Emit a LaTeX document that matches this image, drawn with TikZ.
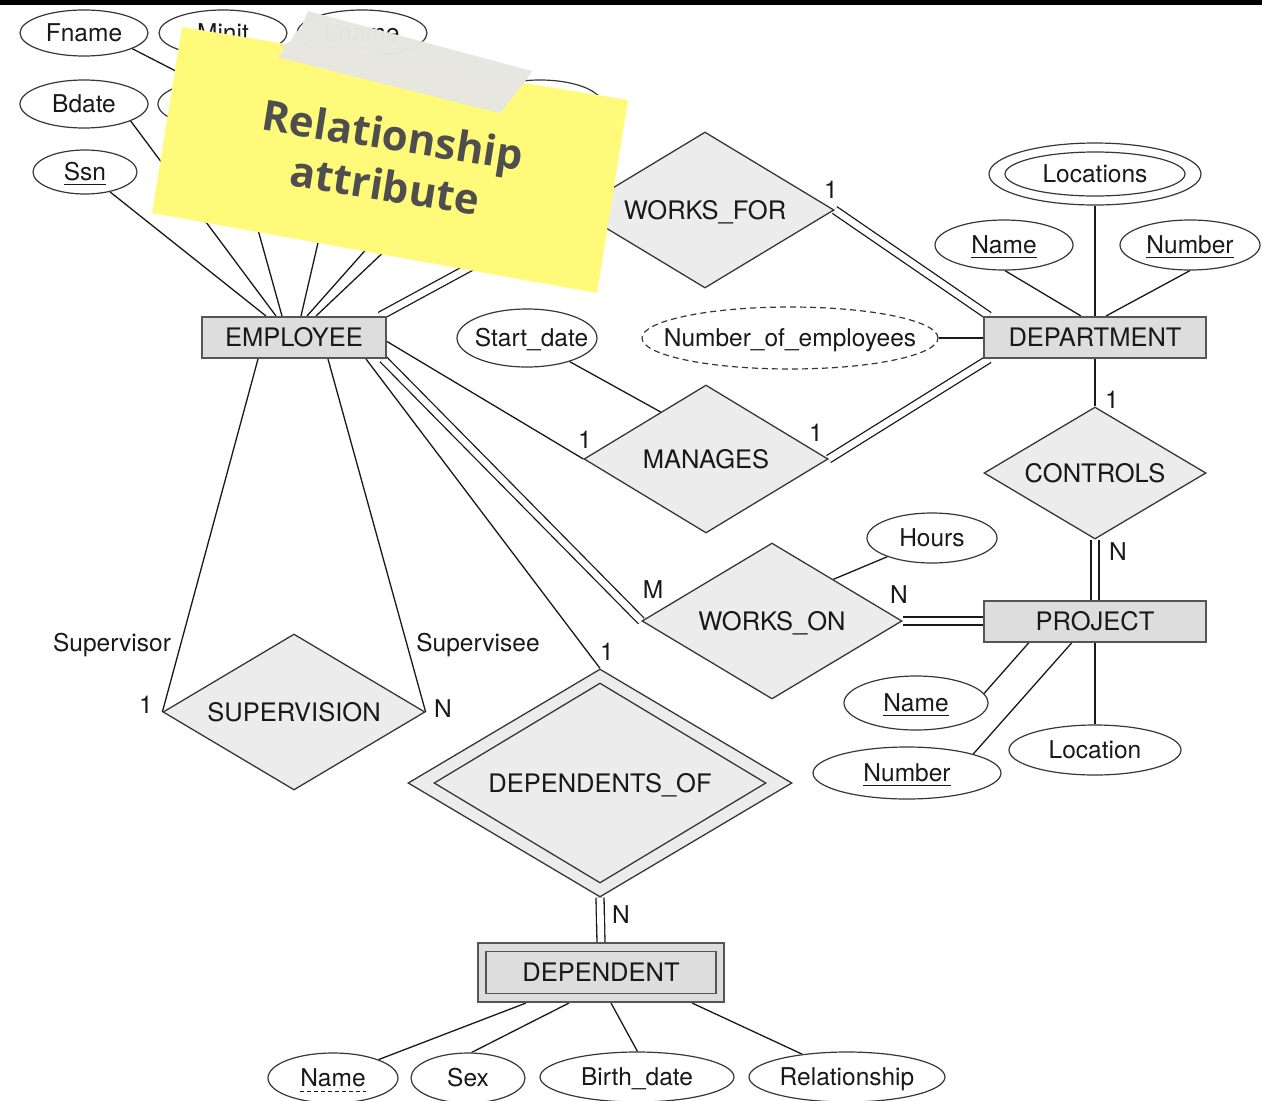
\documentclass[tikz,border=0pt]{standalone}
\usepackage{fontspec}
\setmainfont{TeX Gyre Heros}
\newfontfamily\notefont{Open Sans}
\usetikzlibrary{shapes.geometric,calc}
\pgfdeclarelayer{bg}
\pgfsetlayers{bg,main}

\definecolor{entfill}{RGB}{221,221,221}
\definecolor{relfill}{RGB}{236,236,236}
\definecolor{edgegray}{RGB}{55,55,55}
\definecolor{entedge}{RGB}{85,85,85}
\definecolor{inkblack}{RGB}{25,25,25}
\definecolor{noteyellow}{RGB}{255,250,122}
\definecolor{tapegray}{RGB}{231,231,226}
\definecolor{notegray}{RGB}{78,78,78}

% key attribute underline
\newcommand\keyul[1]{\sbox0{#1}\rlap{\rule[-4.5pt]{\wd0}{1.3pt}}\usebox0}
% text that does not widen its ellipse
\newcommand\zw[1]{\makebox[0pt]{#1}}

\tikzset{
  txt/.style={font=\fontsize{24.5pt}{29pt}\selectfont, text=inkblack, text height=17.6pt, text depth=0pt},
  attr/.style={ellipse, draw=edgegray, line width=1.2pt, fill=white, inner sep=0pt, txt},
  entity/.style={rectangle, draw=entedge, line width=2pt, fill=entfill, inner sep=0pt,
    font=\fontsize{25.5pt}{30pt}\selectfont, text=inkblack, text height=18.3pt, text depth=0pt},
  rel/.style={diamond, aspect=1.66, draw=edgegray, line width=1.3pt, fill=relfill, inner sep=0pt,
    font=\fontsize{25.5pt}{30pt}\selectfont, text=inkblack, text height=18.3pt, text depth=0pt},
  card/.style={txt, inner sep=0pt},
  link/.style={draw=inkblack, line width=1.3pt},
  dlink/.style={draw=inkblack, line width=1.3pt, double=white, double distance=6.7pt},
  notetext/.style={font=\notefont\bfseries\fontsize{42pt}{51pt}\selectfont, text=notegray,
    align=center, rotate=-9, inner sep=0pt},
}

\begin{document}
\begin{tikzpicture}[x=1pt,y=-1pt]
\useasboundingbox (0,0) rectangle (1262,1101);
\begin{pgfonlayer}{bg}
\fill[white] (0,0) rectangle (1262,1101);
\end{pgfonlayer}
\fill[black] (0,0) rectangle (1262,5);

% ---------- EMPLOYEE and its attributes ----------
\node[entity, minimum width=184pt, minimum height=41pt] (emp) at (294,337.5) {EMPLOYEE};
\node[attr, minimum width=128pt, minimum height=46pt] (fname) at (84,33) {Fname};
\node[attr, minimum width=128pt, minimum height=46pt] (minit) at (223,33) {Minit};
\node[attr, minimum width=130pt, minimum height=46pt] (lname) at (362,33) {Lname};
\node[attr, minimum width=128pt, minimum height=48pt] (bdate) at (84,104) {Bdate};
\node[attr, minimum width=130pt, minimum height=48pt] (ename) at (223,104) {};
\node[attr, minimum width=124pt, minimum height=48pt] (addr) at (540,104) {};
\node[attr, minimum width=104pt, minimum height=44pt] (ssn) at (85,172) {\keyul{Ssn}};
\node[attr, minimum width=84pt, minimum height=44pt] (sex) at (333,178) {};
\node[attr, minimum width=104pt, minimum height=44pt] (salary) at (432,175) {};

% ---------- DEPARTMENT and its attributes ----------
\node[entity, minimum width=222pt, minimum height=41pt] (dept) at (1095,337.5) {DEPARTMENT};
\node[attr, minimum width=212pt, minimum height=62pt] (locsout) at (1095,174) {};
\node[attr, minimum width=180pt, minimum height=44pt] (locs) at (1095,174) {\zw{Locations}};
\node[attr, minimum width=138pt, minimum height=50pt] (dname) at (1004,245) {\keyul{Name}};
\node[attr, minimum width=140pt, minimum height=50pt] (dnum) at (1190,245) {\keyul{Number}};
\node[attr, dash pattern=on 6pt off 4pt, minimum width=296pt, minimum height=62pt] (numemp) at (790,338) {\zw{Number\_of\_employees}};

% ---------- PROJECT and its attributes ----------
\node[entity, minimum width=222pt, minimum height=41pt] (proj) at (1095,621) {PROJECT};
\node[attr, minimum width=144pt, minimum height=54pt] (pname) at (916,703) {\keyul{Name}};
\node[attr, minimum width=188pt, minimum height=52pt] (pnum) at (907,773) {\keyul{Number}};
\node[attr, minimum width=172pt, minimum height=50pt] (ploc) at (1095,750) {\zw{Location}};

% ---------- DEPENDENT (weak entity) and its attributes ----------
\node[entity, minimum width=246pt, minimum height=59pt] (depout) at (601,972.5) {};
\node[entity, minimum width=230pt, minimum height=42pt, line width=1.8pt] (dep) at (601,972.5) {DEPENDENT};
\node[attr, minimum width=130pt, minimum height=50pt] (dpname) at (333,1078) {};
\node[card] (dpnametxt) at (333,1078) {Name};
\node[attr, minimum width=114pt, minimum height=50pt] (dsex) at (468,1078) {Sex};
\node[attr, minimum width=194pt, minimum height=50pt] (dbirth) at (637,1077) {\zw{Birth\_date}};
\node[attr, minimum width=196pt, minimum height=50pt] (drel) at (847,1077) {\zw{Relationship}};

% ---------- relationships ----------
\node[rel, minimum width=258pt, minimum height=156pt] (wf) at (705,210) {WORKS\_FOR};
\node[rel, minimum width=244pt, minimum height=148pt] (man) at (706,459) {MANAGES};
\node[attr, minimum width=140pt, minimum height=58pt] (sdate) at (527,338) {\zw{\hspace{9pt}Start\_date}};
\node[rel, minimum width=260pt, minimum height=156pt] (wo) at (772,621) {WORKS\_ON};
\node[attr, minimum width=130pt, minimum height=50pt] (hours) at (932,538) {Hours};
\node[rel, minimum width=222pt, minimum height=132pt] (ctrl) at (1095,473) {CONTROLS};
\node[rel, minimum width=262pt, minimum height=156pt] (sup) at (294,712) {SUPERVISION};
\node[rel, minimum width=384pt, minimum height=228pt] (depofout) at (600,783) {};
\node[rel, minimum width=332pt, minimum height=200pt] (depof) at (600,783) {DEPENDENTS\_OF};

% partial-key dashed underline
\draw[inkblack, line width=1.2pt, dash pattern=on 4pt off 3pt]
  ([yshift=-4.5pt]dpnametxt.base west) -- ([yshift=-4.5pt]dpnametxt.base east);

% ---------- connectors ----------
\begin{pgfonlayer}{bg}
\draw[link] (fname.-18) -- (ename.140);
\draw[link] (minit) -- (ename);
\draw[link] (lname) -- (ename);
\draw[link] (ssn) -- ($(emp.north west)+(65,0)$);
\draw[link] (bdate.-20) -- ($(emp.north west)+(75,0)$);
\draw[link] (ename) -- ($(emp.north west)+(81,0)$);
\draw[link] (sex) -- ($(emp.north west)+(100,0)$);
\draw[link] (salary) -- ($(emp.north west)+(106,0)$);
\draw[link] (addr) -- ($(emp.north west)+(115,0)$);

\draw[dlink] ($(emp.north east)+(-7,0)$) -- (wf.west);
\draw[dlink] (wf.east) -- ($(dept.north west)+(6,0)$);
\draw[link] (locsout.south) -- (locsout.south |- dept.north);
\draw[link] (dname.-88) -- ($(dept.north)+(-14,0)$);
\draw[link] (dnum.-90) -- ($(dept.north)+(11,0)$);
\draw[link] (numemp.east) -- (numemp.east -| dept.west);

\draw[link] ($(emp.east)+(0,4)$) -- (man.west);
\draw[dlink] (man.east) -- ($(dept.south west)+(6,0)$);
\draw[link] (sdate) -- ($(man.west)!0.63!(man.north)$);

\draw[link] (dept.south) -- (ctrl.north);
\draw[dlink] (ctrl.south) -- (proj.north);

\draw[dlink] ($(emp.south east)+(-4,0)$) -- (wo.west);
\draw[dlink] (wo.east) -- (proj.west);
\draw[link] (hours) -- ($(wo.north)!0.47!(wo.east)$);

\draw[link] (pname.8) -- ($(proj.south west)+(46,0)$);
\draw[link] (pnum.16) -- ($(proj.south west)+(89,0)$);
\draw[link] (proj.south) -- (ploc.north);

\draw[link] ($(emp.south east)+(-21,0)$) -- (depofout.north);
\draw[link] ($(emp.south west)+(57,0)$) -- (sup.west);
\draw[link] ($(emp.south west)+(127,0)$) -- (sup.east);

\draw[dlink] (depofout.south) -- (depout.north);
\draw[link] (dpname.22) -- ($(depout.south west)+(49,0)$);
\draw[link] (dsex.82) -- ($(depout.south west)+(92,0)$);
\draw[link] (dbirth.89) -- ($(depout.south west)+(134,0)$);
\draw[link] (drel.153) -- ($(depout.south west)+(215,0)$);
\end{pgfonlayer}

% ---------- cardinalities and roles ----------
\node[card] (cwf) at (831,190) {1};
\node[card] (cmanl) at (585,440) {1};
\node[card] (cmanr) at (816,433) {1};
\node[card] (cctrlt) at (1112,400) {1};
\node[card] (cctrlb) at (1118,552) {N};
\node[card] (cwol) at (653,590) {M};
\node[card] (cwor) at (899,595) {N};
\node[card] (cdepoft) at (607,652) {1};
\node[card] (cdepofb) at (621,915) {N};
\node[card] (csupl) at (146,705) {1};
\node[card] (csupr) at (443,709) {N};
\node[card] (rolesup) at (112,643) {Supervisor};
\node[card] (rolesub) at (478,643) {Supervisee};

% ---------- sticky note with tape ----------
\fill[noteyellow] (182,27) -- (628,100) -- (597,293) -- (152,213) -- cycle;
\node[notetext] (notelabel) at (389,160) {Relationship\\attribute};
\fill[tapegray, fill opacity=0.985] (308,11) -- (532,71) -- (526,80) -- (500,113)
  -- (277,57) -- (284,51) -- (281,46) -- (291,41) -- (294,34) -- (301,28) -- cycle;
\end{tikzpicture}
\end{document}
